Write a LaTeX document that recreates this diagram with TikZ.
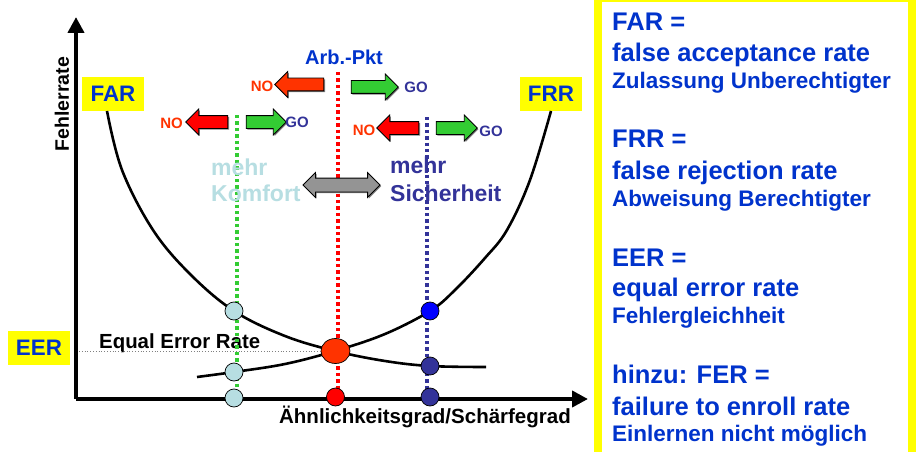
\documentclass[tikz,border=0pt]{standalone}
\usepackage{fontspec}
\setmainfont{Liberation Sans}
\usetikzlibrary{arrows.meta,shapes.geometric,shapes.arrows,shadows}
\definecolor{farblue}{HTML}{0033CC}
\definecolor{navy}{HTML}{333399}
\definecolor{lightcyan}{HTML}{B7DEE2}
\definecolor{goGreen}{HTML}{33CC33}
\definecolor{noOrange}{HTML}{FF3300}
\definecolor{noRed}{HTML}{FF0000}
\definecolor{yel}{HTML}{FFFF00}
\definecolor{pureBlue}{HTML}{0000FF}
\newcommand{\myfs}[1]{\fontsize{#1}{#1}\selectfont}
\tikzset{
  axisline/.style={line width=4pt, -{Triangle[length=16pt,width=16pt]}},
  curveline/.style={line width=2.6pt},
  tagbox/.style={fill=yel, text=farblue, font=\bfseries\myfs{22.4}, inner sep=0pt, minimum width=62pt, minimum height=34pt},
  dot/.style={circle, draw=black, line width=0.7pt, minimum size=18pt, inner sep=0pt},
  vline/.style={line width=3.4pt, dash pattern=on 3.4pt off 3pt},
  arrowbase/.style={single arrow, draw=black, line width=0.8pt, minimum width=25pt, single arrow head extend=6.5pt,
     inner xsep=0pt, inner ysep=6pt,
     drop shadow={shadow xshift=1.2pt, shadow yshift=-1.2pt, opacity=0.5, fill=black}},
  noarr/.style={arrowbase, shape border rotate=180, fill=#1},
  goarr/.style={arrowbase, fill=goGreen},
  notext/.style={text=noOrange, font=\bfseries\myfs{15}, inner sep=0pt},
  gotext/.style={text=navy, font=\bfseries\myfs{15}, inner sep=0pt},
  deftext/.style={anchor=base west, text=farblue, font=\bfseries\myfs{25.5}, inner sep=0pt},
  subtext/.style={anchor=base west, text=farblue, font=\bfseries\myfs{22.5}, inner sep=0pt},
  mehrtext/.style={anchor=base west, font=\bfseries\myfs{23}, inner sep=0pt, align=left},
}
\begin{document}
\begin{tikzpicture}[x=1pt,y=-1pt]
\useasboundingbox (0,0) rectangle (919,452);
\fill[white] (0,0) rectangle (919,452);

% right panel
\draw[yel, line width=8pt] (598,-2) rectangle (911.5,470);
\node[deftext] (t1) at (612,30.7) {FAR =};
\node[deftext] (t2) at (612,61.7) {false acceptance rate};
\node[subtext] (t3) at (612,88.3) {Zulassung Unberechtigter};
\node[deftext] (t4) at (612,147.7) {FRR =};
\node[deftext] (t5) at (612,179) {false rejection rate};
\node[subtext] (t6) at (612,206) {Abweisung Berechtigter};
\node[deftext] (t7) at (612,266.7) {EER =};
\node[deftext] (t8) at (612,296.7) {equal error rate};
\node[subtext] (t9) at (612,323.3) {Fehlergleichheit};
\node[deftext] (t10) at (612,383.3) {hinzu: FER =};
\node[deftext] (t11) at (612,415) {failure to enroll rate};
\node[subtext] (t12) at (612,441.7) {Einlernen nicht möglich};

% axes
\coordinate (origin) at (76,399);
\coordinate (ytip) at (76,17);
\coordinate (xtip) at (588,399);
\draw[axisline] (origin) -- (ytip);
\draw[axisline] (origin) -- (xtip);
\node[rotate=90, font=\bfseries\myfs{19.5}, inner sep=0pt] (ylab) at (62,104) {Fehlerrate};
\node[font=\bfseries\myfs{20.5}, anchor=base east, inner sep=0pt] (xlab) at (571,423) {Ähnlichkeitsgrad/Schärfegrad};

% labels
\node[tagbox] (far) at (113,94) {FAR};
\node[tagbox] (frr) at (551,94) {FRR};
\node[tagbox] (eerbox) at (39,348) {EER};
\node[font=\bfseries\myfs{20.4}, anchor=base west, inner sep=0pt] (eqtxt) at (99,348) {Equal Error Rate};

% vertical dotted lines
\coordinate (gtop) at (237,115);
\coordinate (rtop) at (338,72);
\coordinate (btop) at (427,117);
\draw[vline, goGreen] (gtop) -- (237,398);
\draw[vline, noRed] (rtop) -- (338,398);
\draw[vline, navy] (btop) -- (427,398);

% curves
\draw[curveline] plot[smooth, tension=0.6] coordinates {(107,111) (122,170) (153,230) (190,274) (234,311) (285,336) (335,351) (385,361) (430,366) (486,367)};
\draw[curveline] plot[smooth, tension=0.6] coordinates {(197,377) (234,372) (285,364) (335,351) (385,334) (430,311) (455,290) (485,258) (507,230) (530,180) (551,111)};

% EER point and line
\coordinate (eerl) at (79,351);
\node[ellipse, draw=black, line width=0.7pt, fill=noOrange, minimum width=29pt, minimum height=25pt, inner sep=0pt] (eer) at (335.5,351) {};
\draw[gray, line width=0.8pt, dotted] (eerl) -- (eer.west);

% dots
\node[dot, fill=lightcyan] (lb1) at (234,311) {};
\node[dot, fill=lightcyan] (lb2) at (234,372) {};
\node[dot, fill=lightcyan] (lb3) at (234,398) {};
\node[dot, fill=noRed] (rd) at (335.5,397) {};
\node[dot, fill=pureBlue] (bd1) at (430,311) {};
\node[dot, fill=navy] (bd2) at (430,366) {};
\node[dot, fill=navy] (bd3) at (430,397) {};

% working point arrows
\node[text=farblue, font=\bfseries\myfs{20}, anchor=base, inner sep=0pt] (arb) at (344,65) {Arb.-Pkt};
\node[noarr=noOrange, minimum height=49pt] (no1) at (302.5,84.5) {};
\node[goarr, minimum height=47pt] (go1) at (371.5,87) {};
\node[notext] (no1t) at (262,86) {NO};
\node[gotext] (go1t) at (416,87) {GO};

\node[noarr=noRed, minimum height=42pt] (no2) at (210,122) {};
\node[goarr, minimum height=40pt] (go2) at (263,122) {};
\node[notext] (no2t) at (171.5,123) {NO};
\node[gotext] (go2t) at (297,122) {GO};

\node[noarr=noRed, minimum height=42pt] (no3) at (401,128) {};
\node[goarr, minimum height=41pt] (go3) at (453.5,128) {};
\node[notext] (no3t) at (364,130) {NO};
\node[gotext] (go3t) at (491,131) {GO};

% comfort / security
\node[mehrtext, text=lightcyan] (komf) at (211,175) {mehr};
\node[mehrtext, text=lightcyan] (komf2) at (211,201.7) {Komfort};
\node[mehrtext, text=navy] (sich) at (390,173.3) {mehr};
\node[mehrtext, text=navy] (sich2) at (390,201.7) {Sicherheit};
\node[double arrow, draw=black, line width=0.8pt, fill=black!42, minimum height=77pt, minimum width=24pt, double arrow head extend=5.5pt,
      inner xsep=0pt, inner ysep=6.5pt,
      drop shadow={shadow xshift=1.2pt, shadow yshift=-1.2pt, opacity=0.5, fill=black}] (dbl) at (341.5,185) {};
\end{tikzpicture}
\end{document}
